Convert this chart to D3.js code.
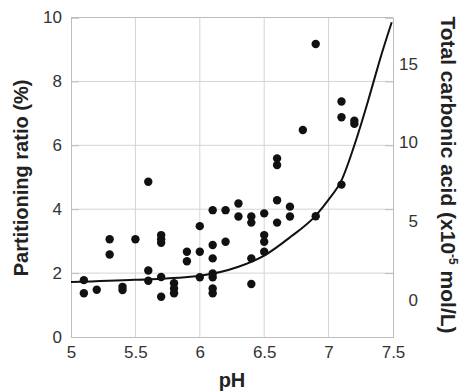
<!DOCTYPE html>
<html>
<head>
<meta charset="utf-8">
<script src="https://cdn.jsdelivr.net/npm/d3@7"></script>
<style>
	body { margin: 0; background: #fff; }
	text { font-family: "Liberation Sans", Arial, sans-serif; }
</style>
</head>
<body>
<div id="chart"></div>
<script>
// measured points, pH and partitioning ratio (%)
let pointPH = [
	5.1, 5.1, 5.2, 5.3, 5.3, 5.4, 5.4, 5.5,
	5.6, 5.6, 5.6, 5.7, 5.7, 5.7, 5.7, 5.7,
	5.8, 5.8, 5.8, 5.9, 5.9, 6.0, 6.0, 6.0,
	6.1, 6.1, 6.1, 6.1, 6.1, 6.1, 6.1, 6.2, 6.2,
	6.3, 6.3, 6.4, 6.4, 6.4, 6.4,
	6.5, 6.5, 6.5, 6.5, 6.6, 6.6, 6.6, 6.6,
	6.7, 6.7, 6.8, 6.9, 6.9, 7.1, 7.1, 7.1, 7.2, 7.2
];
let pointRatio = [
	1.78, 1.37, 1.48, 3.06, 2.58, 1.57, 1.47, 3.06,
	4.86, 2.08, 1.76, 3.19, 3.06, 2.95, 1.88, 1.26,
	1.68, 1.52, 1.37, 2.67, 2.37, 3.47, 2.67, 1.87,
	3.97, 2.88, 2.46, 1.99, 1.87, 1.52, 1.37, 3.97, 2.98,
	4.18, 3.77, 3.77, 3.58, 2.46, 1.66,
	3.87, 3.19, 2.98, 2.67, 5.59, 5.38, 4.28, 3.58,
	4.08, 3.77, 6.48, 9.17, 3.78, 7.37, 6.88, 4.77, 6.77, 6.67
];
// fitted curve
let curvePH =    [5.0, 5.5, 6.0, 6.3, 6.5, 6.7, 6.9, 7.0, 7.1, 7.2, 7.3, 7.35, 7.4, 7.49];
let curveRatio = [1.72, 1.79, 1.92, 2.2, 2.55, 3.12, 3.8, 4.3, 4.9, 6.0, 7.3, 8.0, 8.7, 9.85];

let xTicks = [5, 5.5, 6, 6.5, 7, 7.5];
let yTicks = [0, 2, 4, 6, 8, 10];
let y2Ticks = [0, 5, 10, 15];

let width = 460, height = 392;
let margin = {top: 17.5, right: 67, bottom: 55, left: 71};

let svg = d3.select('#chart').append('svg')
	.attr('width', width)
	.attr('height', height);

let x = d3.scaleLinear().domain([5, 7.5]).range([margin.left, width - margin.right]);
let y = d3.scaleLinear().domain([0, 10]).range([height - margin.bottom, margin.top]);
// right axis: total carbonic acid
let y2 = d3.scaleLinear().domain([-2.37, 17.93]).range([height - margin.bottom, margin.top]);

let grid = svg.append('g');
grid.selectAll('line.v').data(xTicks.slice(1, -1)).join('line')
	.attr('x1', d => x(d)).attr('x2', d => x(d))
	.attr('y1', y(0)).attr('y2', y(10))
	.attr('stroke', '#d4d4d4').attr('stroke-width', 1);
grid.selectAll('line.h').data(yTicks.slice(1, -1)).join('line')
	.attr('x1', x(5)).attr('x2', x(7.5))
	.attr('y1', d => y(d)).attr('y2', d => y(d))
	.attr('stroke', '#d4d4d4').attr('stroke-width', 1);

// left axis, ticks inward
let yAxis = svg.append('g')
	.attr('transform', `translate(${x(5)},0)`)
	.call(d3.axisLeft(y).tickValues(yTicks).tickSize(-8).tickPadding(9).tickFormat(d3.format('d')));
// right side mirrored ticks
let yAxisR = svg.append('g')
	.attr('transform', `translate(${x(7.5)},0)`)
	.call(d3.axisRight(y).tickValues(yTicks).tickSize(-8).tickFormat(''));
let xAxis = svg.append('g')
	.attr('transform', `translate(0,${y(0)})`)
	.call(d3.axisBottom(x).tickValues(xTicks).tickSize(0).tickPadding(9).tickFormat(d => d));
let y2Axis = svg.append('g')
	.attr('transform', `translate(${x(7.5)},0)`)
	.call(d3.axisRight(y2).tickValues(y2Ticks).tickSize(0).tickPadding(0).tickFormat(d3.format('d')));

[yAxis, yAxisR, xAxis, y2Axis].forEach(function(a) {
	a.select('.domain').attr('stroke', '#bdbdbd');
	a.selectAll('.tick line').attr('stroke', '#bdbdbd');
	a.selectAll('text').attr('font-size', 17).attr('fill', '#333')
		.style('font-family', '"Liberation Sans", Arial, sans-serif');
});
y2Axis.selectAll('text').attr('text-anchor', 'end').attr('x', 25);
// top border
svg.append('line')
	.attr('x1', x(5)).attr('x2', x(7.5))
	.attr('y1', y(10)).attr('y2', y(10))
	.attr('stroke', '#bdbdbd');

let line = d3.line()
	.x(function(d){ return x(d[0]); })
	.y(function(d){ return y(d[1]); })
	.curve(d3.curveMonotoneX);
svg.append('path')
	.attr('d', line(d3.zip(curvePH, curveRatio)))
	.attr('fill', 'none')
	.attr('stroke', '#111')
	.attr('stroke-width', 2);

svg.append('g').selectAll('circle')
	.data(d3.zip(pointPH, pointRatio))
	.join('circle')
	.attr('cx', d => x(d[0]))
	.attr('cy', d => y(d[1]))
	.attr('r', 4.2)
	.attr('fill', '#111');

// titles
svg.append('text')
	.attr('transform', `translate(28,178) rotate(-90)`)
	.attr('text-anchor', 'middle')
	.attr('font-size', 20).attr('font-weight', 'bold').attr('fill', '#222')
	.text('Partitioning ratio (%)');
svg.append('text')
	.attr('x', (x(5) + x(7.5)) / 2).attr('y', 387)
	.attr('text-anchor', 'middle')
	.attr('font-size', 20).attr('font-weight', 'bold').attr('fill', '#222')
	.text('pH');
let rt = svg.append('text')
	.attr('transform', `translate(441,175) rotate(90)`)
	.attr('text-anchor', 'middle')
	.attr('font-size', 21).attr('font-weight', 'bold').attr('fill', '#222');
rt.append('tspan').text('Total carbonic acid (x10');
rt.append('tspan').attr('font-size', 12).attr('dy', -8).text('-5');
rt.append('tspan').attr('dy', 8).text(' mol/L)');
</script>
</body>
</html>
